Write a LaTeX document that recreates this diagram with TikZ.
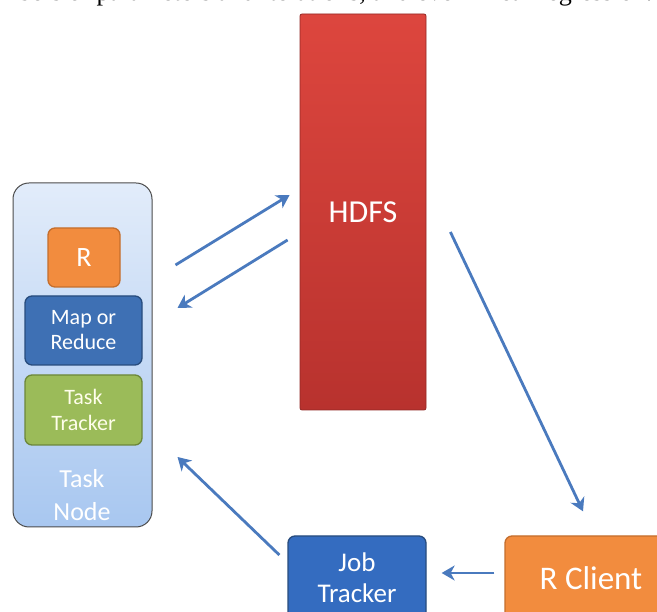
\documentclass[tikz,border=0pt]{standalone}
\usepackage{fontspec}
\setmainfont{Carlito}
\newfontfamily\pagefont{Liberation Serif}
\usetikzlibrary{arrows.meta,positioning,calc}
\definecolor{hdarrow}{RGB}{74,122,190}
\definecolor{hdorange}{RGB}{242,140,62}
\definecolor{hdorangeD}{RGB}{196,110,45}
\definecolor{hdblue}{RGB}{62,112,180}
\definecolor{hdblueD}{RGB}{40,76,125}
\definecolor{hdjob}{RGB}{52,108,192}
\definecolor{hdgreen}{RGB}{155,187,89}
\definecolor{hdgreenD}{RGB}{108,135,58}
\definecolor{hdredT}{RGB}{221,70,62}
\definecolor{hdredB}{RGB}{184,50,46}
\definecolor{nodeT}{RGB}{226,236,250}
\definecolor{nodeB}{RGB}{168,199,240}

\begin{document}
\begin{tikzpicture}[x=1pt,y=1pt,
      box/.style={draw,rounded corners=7pt,line width=1.3pt,text=white,align=center,inner sep=0pt},
      flow/.style={draw=hdarrow,line width=2.8pt,-{Stealth[length=13pt,width=15pt,inset=4pt]}}]
    \clip (0,0) rectangle (657,612);
    \fill[white] (0,0) rectangle (657,612);
    % cut-off line of the page above
    \node[anchor=base west,inner sep=0pt,font=\pagefont] (cap) at (5,611)
      {\resizebox{647pt}{!}{nbers of parameters and iterations, and even linear regression.}};
    % task node
    \node[box,draw=gray!60!black,line width=1pt,rounded corners=16pt,top color=nodeT,bottom color=nodeB,
          minimum width=139,minimum height=344] (tnode) at (82.5,257) {};
    \node[box,fill=hdorange,draw=hdorangeD,minimum width=72,minimum height=59,font=\fontsize{28}{30}\selectfont] (rbox) at (84,354.5) {R};
    \node[box,fill=hdblue,draw=hdblueD,minimum width=117,minimum height=69,font=\fontsize{22}{25}\selectfont] (mapred) at (83.5,281.5) {Map or\\Reduce};
    \node[box,fill=hdgreen,draw=hdgreenD,minimum width=117,minimum height=70,text=yellow!8,font=\fontsize{22}{26}\selectfont] (ttrack) at (83.5,202) {Task\\Tracker};
    \node[text=white,align=center,font=\fontsize{26}{33}\selectfont] (tlabel) at (82,117) {Task\\Node};
    % HDFS
    \node[box,draw=hdredB!80!black,line width=0.8pt,rounded corners=2pt,top color=hdredT,bottom color=hdredB,
          minimum width=126,minimum height=396,font=\fontsize{32}{34}\selectfont] (hdfs) at (363,400) {HDFS};
    % bottom row
    \node[box,fill=hdjob,draw=hdblueD,minimum width=138,minimum height=84,font=\fontsize{27}{31}\selectfont] (jobtr) at (357,34) {Job\\Tracker};
    \node[box,fill=hdorange,draw=hdorangeD,minimum width=172,minimum height=84,font=\fontsize{33}{36}\selectfont] (rclient) at (591,34) {R Client};
    % connectors
    \draw[flow] ([shift={(23,90)}]tnode.east) -- ([shift={(-10,17)}]hdfs.west);
    \draw[flow] ([shift={(-12,-28)}]hdfs.west) -- ([shift={(25,47)}]tnode.east);
    \draw[flow] ([shift={(24,-20)}]hdfs.east) -- ([shift={(-8,24)}]rclient.north);
    \draw[flow] ([shift={(-10,5)}]rclient.west) -- ([shift={(15,5)}]jobtr.east);
    \draw[flow] ([shift={(-8,23)}]jobtr.west) -- ([shift={(25,-102)}]tnode.east);
  \end{tikzpicture}
\end{document}
